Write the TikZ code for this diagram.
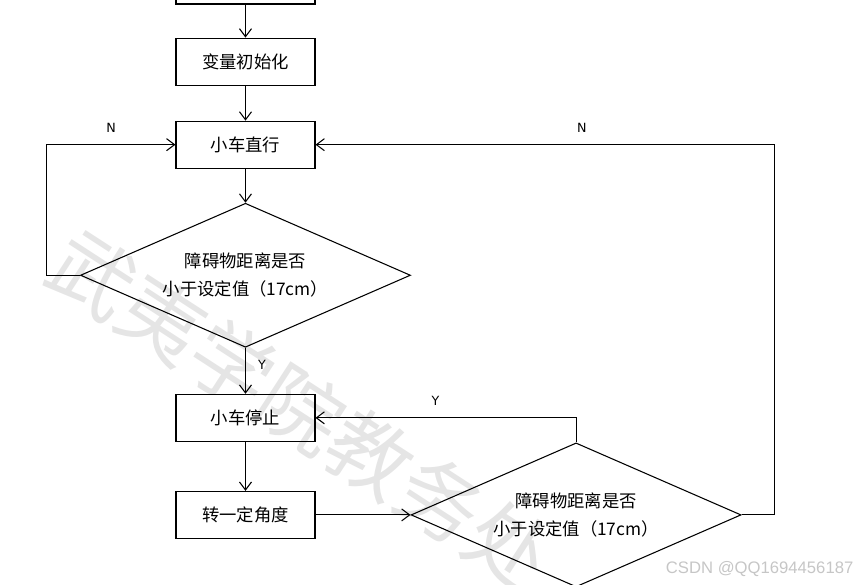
\documentclass[tikz,border=0pt]{standalone}
\usepackage{fontspec}
\newfontfamily\cjk{Noto Sans CJK SC}
\newfontfamily\labelfont{DejaVu Sans}
\newfontfamily\markfont{Liberation Sans}
\usetikzlibrary{arrows.meta, positioning, shapes.geometric}

\begin{document}
\begin{tikzpicture}[node distance=26pt, >={Straight Barb[length=6pt,width=9pt]}]

  \tikzstyle{block} = [rectangle, draw=black, line width=0.8pt, minimum width=104.25pt, minimum height=35.25pt, inner sep=0pt, font=\cjk\fontsize{13}{21}\selectfont];
  \tikzstyle{decision} = [diamond, aspect=2.29, draw=black, line width=0.8pt, minimum width=247.5pt, minimum height=108pt, inner sep=0pt, align=center, font=\cjk\fontsize{13}{21}\selectfont];
  \tikzstyle{arrow} = [->, line width=0.8pt];
  \tikzstyle{yn} = [font=\labelfont\fontsize{9.5}{9.5}\selectfont, inner sep=0pt];

  \useasboundingbox (-184.1pt,-452.6pt) rectangle (461.6pt,-14.6pt);

  \node [rotate=-33, text=gray!20, font=\cjk\fontsize{62}{62}\selectfont] (mark) at (42pt,-322pt) {武夷学院教务处};

  \node [block]                        (start)   {};
  \node [block, below=24.75pt of start] (init)   {变量初始化};
  \node [block, below=26.25pt of init] (go)      {小车直行};
  \node [decision, below=25.5pt of go] (check)   {障碍物距离是否\\小于设定值（17cm）};
  \node [block, below=34.5pt of check] (stop)    {小车停止};
  \node [block, below=36.75pt of stop] (turn)    {转一定角度};
  \node [decision, right=71.25pt of turn] (recheck) {障碍物距离是否\\小于设定值（17cm）};

  \draw [arrow] (start) -- (init);
  \draw [arrow] (init) -- (go);
  \draw [arrow] (go) -- (check);
  \draw [arrow] (check) -- node [yn, pos=0.38, right=9pt] {Y} (stop);
  \draw [arrow] (stop) -- (turn);
  \draw [arrow] (turn) -- (recheck);

  \draw [arrow] (check.west) -- ++(-24.75pt,0) |- node [yn, pos=0.75, above=9pt] {N} (go.west);
  \draw [arrow] (recheck.east) -- ++(24.75pt,0) |- node [yn, pos=0.71, above=9pt] {N} (go.east);
  \draw [arrow] (recheck.north) |- node [yn, pos=0.77, above=9pt] {Y} (stop.east);

  \node [anchor=east, text=gray!45, font=\markfont\fontsize{12.5}{12.5}\selectfont] (csdn) at (459.4pt,-441.4pt) {CSDN @QQ1694456187};

\end{tikzpicture}
\end{document}
